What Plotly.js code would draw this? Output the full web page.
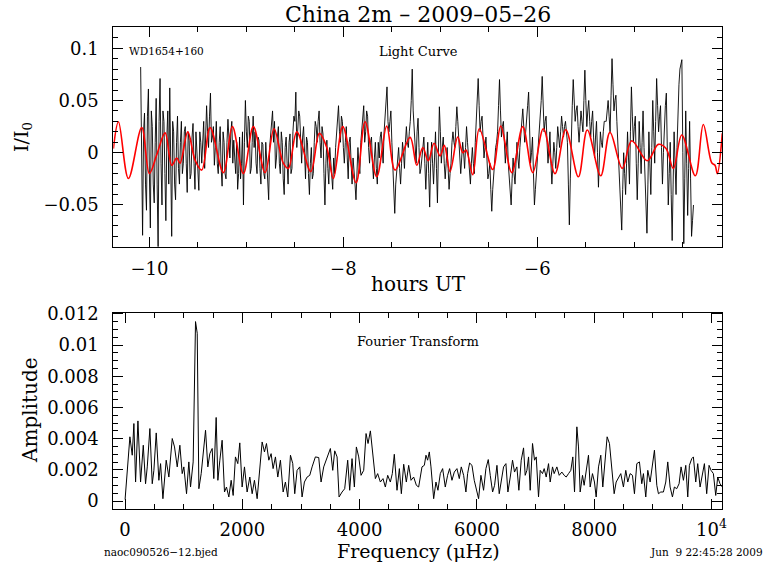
<!DOCTYPE html>
<html><head><meta charset="utf-8">
<script src="https://cdn.plot.ly/plotly-3.0.1.min.js"></script>
<style>html,body{margin:0;padding:0;background:#fff}#plot{width:768px;height:574px}</style>
</head><body><div id="plot"></div>
<script>
// ---- Light curve (hours UT, relative intensity) ----
const lcStart = -10.09;   // first sample time (h)
const lcStep = 0.01;      // sampling step (h)
const lcFlux = [
 0.082,-0.04,-0.079,0.02,0.038,-0.03,-0.055,0.035,0.061,-0.02,-0.072,0.04,0.025,-0.03,-0.048,0.01,0.052,-0.03,-0.090,0.03,
 0.071,-0.01,-0.050,0.04,0.030,-0.02,-0.065,0.015,0.040,-0.03,0.062,-0.01,-0.080,0.03,0.020,-0.03,-0.045,0.01,0.035,-0.015,
 -0.030,0.01,0.030,-0.02,-0.010,0.02,0.025,-0.01,-0.038,0.02,0.012,-0.025,-0.020,0.015,0.028,-0.01,-0.035,0.02,0.005,-0.02,
 -0.036,0.02,0.010,-0.01,0.022,0.03,-0.015,0.01,0.045,0.02,0.005,0.035,0.057,0.01,0.015,0.025,-0.012,0.005,0.030,-0.01,
 -0.020,0.01,0.025,-0.015,-0.032,0.02,0.010,-0.02,-0.025,0.01,0.032,0.015,-0.005,0.02,0.030,-0.01,0.012,-0.005,-0.020,0.01,
 -0.035,-0.02,0.015,-0.025,-0.010,0.02,-0.050,0.01,0.050,0.02,0.005,0.035,0.030,-0.02,-0.015,0.01,0.035,0.005,0.020,-0.01,
 -0.020,0.015,0.012,-0.015,-0.030,0.01,0.008,-0.02,-0.025,0.01,-0.010,-0.03,-0.045,0.005,0.020,0.025,0.040,0.01,0.030,-0.015,
 -0.005,0.015,0.025,-0.01,-0.020,0.02,0.010,-0.025,-0.040,0.005,0.015,-0.01,-0.030,0.01,0.018,-0.02,-0.015,0.02,0.035,0.03,
 0.058,0.005,0.020,0.04,0.035,0.01,-0.010,0.015,0.025,0.0,-0.025,0.015,0.010,-0.02,-0.040,-0.01,0.005,-0.025,-0.020,0.01,
 0.030,0.025,0.010,0.03,0.040,0.01,-0.005,0.025,0.018,-0.02,-0.050,-0.01,0.012,-0.015,-0.030,0.005,-0.008,-0.02,-0.035,-0.005,
 -0.020,0.005,0.020,0.03,0.045,0.02,0.010,0.035,0.030,0.005,-0.010,0.01,0.025,-0.005,-0.025,0.01,0.015,-0.01,-0.030,-0.005,
 -0.015,-0.03,-0.045,-0.015,0.005,-0.01,-0.020,0.01,0.025,0.03,0.045,0.01,0.020,0.04,0.035,0.005,-0.010,0.01,0.015,-0.01,
 -0.025,-0.005,0.010,-0.015,-0.030,0.01,-0.005,0.015,0.020,0.005,-0.010,0.02,0.035,0.045,0.063,0.03,0.020,0.03,0.040,0.01,
 -0.010,-0.035,-0.058,-0.03,-0.020,-0.005,0.005,-0.015,-0.030,-0.01,0.010,0.0,-0.015,0.01,0.025,0.01,0.005,0.02,0.030,0.05,
 0.080,0.04,0.020,0.005,-0.010,0.02,0.033,0.005,-0.020,-0.015,-0.005,0.01,0.015,-0.01,-0.035,-0.01,0.010,-0.02,-0.052,-0.01,
 0.010,-0.01,-0.030,-0.005,0.020,-0.015,-0.048,0.0,0.044,0.02,-0.010,0.005,0.015,-0.01,-0.025,-0.01,0.005,-0.015,-0.035,-0.02,
 -0.010,0.01,0.020,0.01,0.005,0.025,0.044,0.03,0.015,0.0,-0.020,-0.005,0.010,0.0,-0.015,0.005,0.025,0.01,-0.005,-0.02,
 -0.030,-0.01,0.005,-0.01,-0.020,0.01,0.030,0.05,0.071,0.045,0.020,0.03,0.035,0.015,-0.005,0.005,0.015,-0.005,-0.025,-0.02,
 -0.010,-0.035,-0.056,-0.035,-0.020,-0.005,0.005,0.01,0.020,0.045,0.070,0.04,0.015,0.025,0.030,0.01,-0.010,0.005,0.020,-0.01,
 -0.025,-0.035,-0.050,-0.025,-0.005,-0.02,-0.030,-0.01,0.010,-0.005,-0.015,0.005,0.020,0.03,0.042,0.025,0.010,0.02,0.030,0.045,
 0.058,0.025,-0.010,0.0,0.015,-0.02,-0.050,-0.035,-0.020,-0.005,0.010,0.02,0.030,0.05,0.073,0.045,0.020,0.03,0.035,0.01,
 -0.010,0.005,0.020,-0.01,-0.030,-0.01,0.010,0.0,-0.015,0.005,0.025,0.015,0.005,0.02,0.035,0.025,0.015,0.025,0.030,0.02,
 0.010,-0.03,-0.069,-0.025,0.020,0.045,0.070,0.05,0.030,0.04,0.045,0.025,0.010,0.025,0.040,0.03,0.020,0.05,0.079,0.05,
 0.025,0.04,0.050,0.03,0.015,0.03,0.040,0.015,-0.005,0.015,0.030,0.0,-0.033,-0.005,0.020,0.01,0.005,0.02,0.030,0.03,
 0.030,0.04,0.050,0.035,0.020,0.055,0.090,0.065,0.040,0.05,0.055,0.03,0.010,-0.005,-0.020,-0.05,-0.074,-0.035,0.000,-0.02,
 -0.040,-0.01,0.020,-0.005,-0.030,0.02,0.063,0.035,0.010,0.025,0.035,-0.01,-0.045,-0.01,0.030,0.005,-0.020,0.01,0.040,0.005,
 -0.030,-0.055,-0.077,-0.03,0.020,-0.01,-0.040,0.005,0.050,0.02,-0.010,0.03,0.071,0.045,0.020,0.035,0.045,0.005,-0.030,0.0,
 0.030,0.045,0.057,0.0,-0.050,-0.02,0.010,-0.04,-0.084,-0.03,0.020,-0.01,-0.040,0.005,0.050,0.065,0.080,0.085,0.089,0.0,
 -0.087,-0.025,0.040,-0.01,-0.060,-0.015,0.030,-0.025,-0.080,-0.065,-0.050
];

// ---- Red fitted curve: turning points ----
const fitTime = [-10.371,-10.319,-10.216,-10.079,-10.0,-9.924,-9.838,-9.769,-9.718,-9.684,
 -9.604,-9.529,-9.46,-9.374,-9.237,-9.144,-9.031,-8.928,-8.807,-8.715,
 -8.619,-8.567,-8.48,-8.336,-8.247,-8.171,-8.103,-8.006,-7.869,-7.776,
 -7.656,-7.553,-7.467,-7.312,-7.243,-7.181,-7.124,-7.065,-7.003,-6.959,
 -6.9,-6.821,-6.769,-6.735,-6.666,-6.598,-6.46,-6.377,-6.264,-6.15,
 -6.047,-5.938,-5.818,-5.707,-5.577,-5.485,-5.347,-5.251,-5.124,-5.027,
 -4.866,-4.753,-4.673,-4.598,-4.511,-4.371,-4.289,-4.202,-4.168,-4.144,-4.093];
const fitFlux = [0.004,0.0297,-0.0246,0.0242,-0.0198,-0.002,0.019,-0.012,-0.005,-0.010,
 0.020,-0.007,-0.0166,0.024,-0.019,0.025,-0.020,0.025,-0.019,0.023,
 -0.010,-0.015,0.020,-0.018,0.0185,0.005,-0.0246,0.025,-0.0287,0.0297,
 -0.023,0.0255,-0.0166,0.0147,-0.012,0.005,-0.0077,0.009,-0.003,0.007,
 -0.018,0.015,0.000,0.0025,-0.021,0.023,-0.016,0.0255,-0.019,0.025,
 -0.019,0.023,-0.020,0.022,-0.023,0.0217,-0.022,0.0195,-0.015,0.0115,
 -0.0077,0.008,0.004,-0.015,0.017,-0.022,0.027,-0.0096,-0.012,-0.020,0.0185];

// ---- Fourier transform (microHz, amplitude) ----
const ftFreq = [0,82,122,150,179,219,264,310,349,378,423,463,491,531,576,605,645,701,747,804,
 843,889,934,974,1002,1048,1087,1116,1161,1201,1230,1258,1298,1332,1372,1411,1445,1485,1513,1553,
 1582,1616,1655,1695,1729,1769,1809,1843,1882,1922,1956,1996,2036,2081,2127,2167,2206,2252,2297,2337,
 2377,2411,2451,2490,2524,2564,2604,2649,2695,2734,2774,2820,2859,2893,2933,2979,3018,3058,3104,3149,
 3189,3245,3302,3342,3387,3433,3501,3541,3575,3615,3649,3700,3745,3796,3830,3870,3910,3944,3984,4024,
 4069,4109,4143,4183,4228,4268,4307,4353,4398,4438,4478,4523,4557,4591,4637,4677,4711,4751,4796,4836,
 4876,4921,4967,5006,5063,5103,5131,5159,5188,5216,5262,5301,5335,5375,5415,5460,5500,5534,5574,5614,
 5659,5699,5733,5773,5812,5841,5875,5915,5954,5988,6028,6068,6113,6153,6193,6227,6267,6301,6341,6380,
 6414,6454,6494,6528,6568,6607,6641,6681,6715,6755,6795,6823,6852,6880,6908,6948,6982,7011,7050,7079,
 7118,7147,7181,7221,7249,7289,7317,7363,7403,7448,7488,7522,7562,7601,7635,7664,7704,7732,7760,7800,
 7828,7862,7902,7931,7970,8004,8033,8073,8112,8146,8186,8220,8260,8300,8340,8374,8413,8453,8498,8538,
 8572,8612,8652,8686,8726,8771,8811,8839,8879,8913,8953,8993,9027,9067,9095,9135,9180,9220,9254,9294,
 9334,9367,9407,9447,9481,9521,9561,9595,9623,9663,9691,9731,9765,9805,9845,9879,9918,9958,9992,10032,
 10072,10106,10145,10185];
const ftAmp = [0.0001,0.00412,0.00294,0.00497,0.00122,0.00514,0.00122,0.00358,0.00111,0.00219,0.00465,0.00111,0.00197,0.00437,0.00133,0.0024,0.00015,0.00262,0.00154,0.00401,
 0.00347,0.00219,0.00358,0.00176,0.00219,0.00047,0.00251,0.0009,0.00251,0.01151,0.01076,0.00079,0.00176,0.00326,0.00454,0.00219,0.00304,0.00337,0.00144,0.00536,
 0.00133,0.00262,0.0039,0.00058,0.0009,0.00026,0.00133,0.00036,0.00283,0.0024,0.00373,0.0009,0.00219,0.00058,0.00154,0.00047,0.00133,0.00015,0.00197,0.00379,
 0.00315,0.00369,0.00262,0.00304,0.00208,0.00283,0.00154,0.00262,0.00058,0.00122,0.00026,0.00294,0.0024,0.00047,0.00197,0.00219,0.00026,0.00122,0.00154,0.00165,
 0.00219,0.00283,0.00279,0.00122,0.00219,0.00272,0.00337,0.00197,0.00322,0.00283,0.00026,0.00058,0.00079,0.00262,0.00069,0.00272,0.0009,0.00347,0.00283,0.00165,
 0.00197,0.00433,0.00369,0.0045,0.00283,0.00144,0.00176,0.00122,0.00144,0.0009,0.00165,0.00122,0.00176,0.003,0.00069,0.00208,0.00047,0.00236,0.00122,0.00229,
 0.00133,0.00154,0.00101,0.0009,0.00219,0.00229,0.00294,0.00262,0.00315,0.00219,0.00015,0.00122,0.00069,0.00176,0.00208,0.0009,0.00165,0.00208,0.00133,0.00186,
 0.00208,0.00144,0.00219,0.00165,0.00058,0.00176,0.00244,0.00229,0.00133,0.00069,0.00015,0.00165,0.00069,0.00208,0.00266,0.00165,0.00058,0.00101,0.00229,0.00047,
 0.00122,0.00219,0.0024,0.00058,0.00154,0.00262,0.00186,0.00219,0.00069,0.00262,0.00341,0.00165,0.00197,0.00283,0.00069,0.00369,0.00262,0.00283,0.00026,0.00197,
 0.00176,0.00208,0.00154,0.0024,0.00122,0.00219,0.00176,0.00219,0.00165,0.00186,0.00165,0.00154,0.00176,0.00197,0.00283,0.00058,0.00476,0.00347,0.00058,0.00165,
 0.00101,0.00208,0.00294,0.0009,0.00176,0.00122,0.00026,0.00219,0.00294,0.0009,0.0024,0.00412,0.00369,0.00219,0.00047,0.00122,0.00154,0.00176,0.0009,0.00197,
 0.00122,0.00176,0.00165,0.00047,0.0024,0.00251,0.00111,0.00176,0.00026,0.00197,0.00122,0.00219,0.00326,0.00101,0.00047,0.00058,0.00058,0.00122,0.00251,0.0009,
 0.00026,0.0009,0.00079,0.00111,0.00219,0.00133,0.00229,0.00026,0.00229,0.00272,0.00283,0.00122,0.0024,0.0009,0.00186,0.0024,0.00047,0.00229,0.00197,0.00176,
 0.00036,0.00154,0.00111,0.0009];

const freqTickVals = [0,2000,4000,6000,8000,10000];
const freqTickText = ['0','2000','4000','6000','8000','10<sup>4</sup>'];

const lcTime = lcFlux.map((_, i) => lcStart + i * lcStep);

const FONT = 'DejaVu Serif, serif';
const W = 768, H = 574;
const px = v => v / W;
const py = v => 1 - v / H;

const traces = [
  {x: lcTime, y: lcFlux, type: 'scatter', mode: 'lines', line: {color: '#000', width: 0.9}, xaxis: 'x', yaxis: 'y', hoverinfo: 'skip'},
  {x: fitTime, y: fitFlux, type: 'scatter', mode: 'lines', line: {color: '#ff0000', width: 1.6, shape: 'spline', smoothing: 1}, xaxis: 'x', yaxis: 'y', hoverinfo: 'skip'},
  {x: ftFreq, y: ftAmp, type: 'scatter', mode: 'lines', line: {color: '#000', width: 1}, xaxis: 'x2', yaxis: 'y2', hoverinfo: 'skip'}
];

const axBase = {
  showline: true, linecolor: '#000', linewidth: 1, mirror: 'ticks',
  ticks: 'inside', ticklen: 10, tickwidth: 1, tickcolor: '#000',
  showgrid: false, zeroline: false, tickfont: {family: FONT, size: 18, color: '#000'},
  fixedrange: true
};
const minorBase = {ticks: 'inside', ticklen: 5, tickwidth: 1, tickcolor: '#000', showgrid: false};

const xDom = [px(113.3), px(722.3)];
const layout = {
  width: W, height: H, margin: {l: 0, r: 0, t: 0, b: 0},
  paper_bgcolor: '#fff', plot_bgcolor: '#fff', showlegend: false,
  xaxis: Object.assign({}, axBase, {domain: xDom, anchor: 'y', range: [-10.372, -4.093], tick0: 0, dtick: 2,
    minor: Object.assign({}, minorBase, {dtick: 0.5}), ticklabelstandoff: 6}),
  yaxis: Object.assign({}, axBase, {domain: [py(246.7), py(27.3)], anchor: 'x', range: [-0.0899, 0.120], tick0: 0, dtick: 0.05,
    minor: Object.assign({}, minorBase, {dtick: 0.01}), ticklabelstandoff: 10}),
  xaxis2: Object.assign({}, axBase, {domain: xDom, anchor: 'y2', range: [-201, 10184], tickmode: 'array',
    tickvals: freqTickVals, ticktext: freqTickText,
    minor: Object.assign({}, minorBase, {tickmode: 'linear', tick0: 0, dtick: 500}), ticklabelstandoff: 4}),
  yaxis2: Object.assign({}, axBase, {domain: [py(509), py(312.7)], anchor: 'x2', range: [-0.00051, 0.01208], tick0: 0, dtick: 0.002,
    minor: Object.assign({}, minorBase, {dtick: 0.0005}), ticklabelstandoff: 10}),
  annotations: [
    {text: 'China 2m \u2013 2009\u201305\u201326', x: px(418), y: py(14), xref: 'paper', yref: 'paper', showarrow: false, xanchor: 'center', yanchor: 'middle', font: {family: FONT, size: 22, color: '#000'}},
    {text: 'WD1654+160', x: px(127), y: py(51), xref: 'paper', yref: 'paper', showarrow: false, xanchor: 'left', yanchor: 'middle', font: {family: FONT, size: 10.5, color: '#000'}},
    {text: 'Light Curve', x: px(418), y: py(51), xref: 'paper', yref: 'paper', showarrow: false, xanchor: 'center', yanchor: 'middle', font: {family: FONT, size: 13, color: '#000'}},
    {text: 'hours UT', x: px(418), y: py(284), xref: 'paper', yref: 'paper', showarrow: false, xanchor: 'center', yanchor: 'middle', font: {family: FONT, size: 20, color: '#000'}},
    {text: 'I/I<sub>0</sub>', x: px(22), y: py(137), xref: 'paper', yref: 'paper', showarrow: false, xanchor: 'center', yanchor: 'middle', textangle: -90, font: {family: FONT, size: 19, color: '#000'}},
    {text: 'Fourier Transform', x: px(418), y: py(341), xref: 'paper', yref: 'paper', showarrow: false, xanchor: 'center', yanchor: 'middle', font: {family: FONT, size: 13, color: '#000'}},
    {text: 'Amplitude', x: px(30), y: py(410), xref: 'paper', yref: 'paper', showarrow: false, xanchor: 'center', yanchor: 'middle', textangle: -90, font: {family: FONT, size: 20, color: '#000'}},
    {text: 'Frequency (\u03bcHz)', x: px(418), y: py(551), xref: 'paper', yref: 'paper', showarrow: false, xanchor: 'center', yanchor: 'middle', font: {family: FONT, size: 19, color: '#000'}},
    {text: 'naoc090526\u221212.bjed', x: px(102), y: py(552), xref: 'paper', yref: 'paper', showarrow: false, xanchor: 'left', yanchor: 'middle', font: {family: FONT, size: 10.5, color: '#000'}},
    {text: 'Jun  9 22:45:28 2009', x: px(765), y: py(552), xref: 'paper', yref: 'paper', showarrow: false, xanchor: 'right', yanchor: 'middle', font: {family: FONT, size: 10.5, color: '#000'}}
  ]
};

Plotly.newPlot('plot', traces, layout, {staticPlot: true, displayModeBar: false});
</script>
</body></html>
